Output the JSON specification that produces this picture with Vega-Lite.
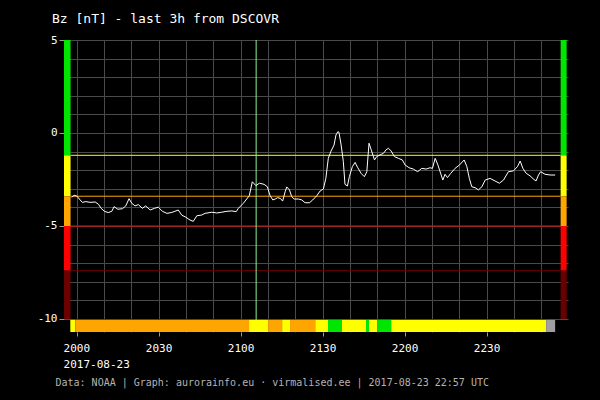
{
  "$schema": "https://vega.github.io/schema/vega-lite/v6.json",
  "width": 504,
  "height": 292,
  "autosize": {"type": "none"},
  "padding": {"left": 64, "top": 40, "right": 32, "bottom": 68},
  "background": "#000000",
  "config": {"view": {"stroke": null}, "font": "DejaVu Sans Mono", "axis": {"labelOverlap": false}},
  "title": {
    "text": "Bz [nT] - last 3h from DSCOVR",
    "anchor": "start",
    "frame": "group",
    "dx": -12,
    "dy": 10,
    "offset": 8,
    "baseline": "alphabetic",
    "color": "#ffffff",
    "font": "DejaVu Sans Mono",
    "fontSize": 13,
    "fontWeight": "normal"
  },
  "resolve": {"axis": {"x": "independent", "y": "independent"}},
  "datasets": {
    "bz": [
      {"t": -1.8, "bz": -3.46}, {"t": -0.9, "bz": -3.35}, {"t": 0.1, "bz": -3.39}, {"t": 1.3, "bz": -3.6}, {"t": 2.1, "bz": -3.73},
      {"t": 3.4, "bz": -3.69}, {"t": 4.9, "bz": -3.73}, {"t": 6.8, "bz": -3.71}, {"t": 8.0, "bz": -3.83}, {"t": 9.0, "bz": -4.05},
      {"t": 10.2, "bz": -4.21}, {"t": 11.6, "bz": -4.28}, {"t": 12.9, "bz": -4.21}, {"t": 13.7, "bz": -3.96}, {"t": 15.1, "bz": -4.1},
      {"t": 16.8, "bz": -4.07}, {"t": 18.0, "bz": -3.92}, {"t": 19.2, "bz": -3.53}, {"t": 20.2, "bz": -3.78}, {"t": 21.4, "bz": -3.92},
      {"t": 22.6, "bz": -3.85}, {"t": 24.1, "bz": -4.05}, {"t": 25.3, "bz": -3.92}, {"t": 26.9, "bz": -4.14}, {"t": 28.5, "bz": -4.05},
      {"t": 29.9, "bz": -3.99}, {"t": 31.4, "bz": -4.21}, {"t": 33.0, "bz": -4.32}, {"t": 34.6, "bz": -4.28}, {"t": 36.0, "bz": -4.21},
      {"t": 37.2, "bz": -4.14}, {"t": 38.5, "bz": -4.42}, {"t": 40.0, "bz": -4.53}, {"t": 41.5, "bz": -4.68}, {"t": 42.7, "bz": -4.75},
      {"t": 44.0, "bz": -4.45}, {"t": 45.8, "bz": -4.41}, {"t": 47.0, "bz": -4.32}, {"t": 49.5, "bz": -4.26}, {"t": 51.3, "bz": -4.3},
      {"t": 53.1, "bz": -4.26}, {"t": 55.0, "bz": -4.21}, {"t": 56.8, "bz": -4.19}, {"t": 58.4, "bz": -4.23}, {"t": 59.2, "bz": -4.05},
      {"t": 61.0, "bz": -3.78}, {"t": 63.2, "bz": -3.37}, {"t": 64.3, "bz": -2.62}, {"t": 65.6, "bz": -2.83}, {"t": 66.9, "bz": -2.7},
      {"t": 68.6, "bz": -2.76}, {"t": 69.8, "bz": -2.89}, {"t": 70.8, "bz": -3.37}, {"t": 71.8, "bz": -3.6}, {"t": 72.7, "bz": -3.55},
      {"t": 73.5, "bz": -3.48}, {"t": 74.5, "bz": -3.51}, {"t": 75.4, "bz": -3.66}, {"t": 76.3, "bz": -3.16}, {"t": 76.9, "bz": -2.9},
      {"t": 77.9, "bz": -3.06}, {"t": 78.7, "bz": -3.42}, {"t": 79.6, "bz": -3.55}, {"t": 81.2, "bz": -3.55}, {"t": 82.4, "bz": -3.6},
      {"t": 83.6, "bz": -3.75}, {"t": 85.2, "bz": -3.75}, {"t": 86.4, "bz": -3.6}, {"t": 87.9, "bz": -3.37}, {"t": 89.1, "bz": -3.12},
      {"t": 90.3, "bz": -3.01}, {"t": 91.2, "bz": -2.44}, {"t": 92.1, "bz": -1.36}, {"t": 93.1, "bz": -0.97}, {"t": 94.2, "bz": -0.65},
      {"t": 94.9, "bz": -0.11}, {"t": 95.6, "bz": 0.07}, {"t": 96.0, "bz": 0.04}, {"t": 96.8, "bz": -0.65}, {"t": 97.6, "bz": -1.54},
      {"t": 98.2, "bz": -2.76}, {"t": 99.1, "bz": -2.85}, {"t": 99.8, "bz": -2.35}, {"t": 100.9, "bz": -1.81}, {"t": 101.9, "bz": -1.58},
      {"t": 102.9, "bz": -1.87}, {"t": 104.1, "bz": -2.17}, {"t": 105.3, "bz": -2.35}, {"t": 106.2, "bz": -2.08}, {"t": 107.0, "bz": -0.55},
      {"t": 107.8, "bz": -0.91}, {"t": 109.0, "bz": -1.45}, {"t": 109.8, "bz": -1.27}, {"t": 111.0, "bz": -1.18}, {"t": 112.3, "bz": -1.09},
      {"t": 113.2, "bz": -0.91}, {"t": 114.1, "bz": -0.82}, {"t": 115.1, "bz": -0.97}, {"t": 116.3, "bz": -1.27}, {"t": 117.7, "bz": -1.36},
      {"t": 119.2, "bz": -1.45}, {"t": 120.2, "bz": -1.72}, {"t": 121.7, "bz": -1.87}, {"t": 123.2, "bz": -1.94}, {"t": 124.8, "bz": -2.08},
      {"t": 126.3, "bz": -1.9}, {"t": 127.9, "bz": -1.94}, {"t": 129.3, "bz": -1.87}, {"t": 130.2, "bz": -1.9}, {"t": 131.2, "bz": -1.36},
      {"t": 132.2, "bz": -1.72}, {"t": 133.4, "bz": -2.26}, {"t": 134.0, "bz": -2.53}, {"t": 134.8, "bz": -2.22}, {"t": 135.7, "bz": -2.4},
      {"t": 136.9, "bz": -2.17}, {"t": 138.5, "bz": -1.9}, {"t": 140.1, "bz": -1.72}, {"t": 141.8, "bz": -1.45}, {"t": 142.8, "bz": -1.81},
      {"t": 143.7, "bz": -2.44}, {"t": 144.6, "bz": -2.89}, {"t": 145.8, "bz": -2.94}, {"t": 147.0, "bz": -3.06}, {"t": 148.3, "bz": -2.89},
      {"t": 149.5, "bz": -2.53}, {"t": 151.3, "bz": -2.44}, {"t": 153.1, "bz": -2.58}, {"t": 154.7, "bz": -2.7}, {"t": 156.2, "bz": -2.53},
      {"t": 158.0, "bz": -2.08}, {"t": 159.8, "bz": -2.04}, {"t": 161.3, "bz": -1.81}, {"t": 162.3, "bz": -1.51}, {"t": 163.3, "bz": -1.9},
      {"t": 164.5, "bz": -2.17}, {"t": 165.9, "bz": -2.3}, {"t": 167.1, "bz": -2.47}, {"t": 168.1, "bz": -2.58}, {"t": 169.0, "bz": -2.26},
      {"t": 169.8, "bz": -2.08}, {"t": 171.4, "bz": -2.22}, {"t": 173.3, "bz": -2.26}, {"t": 175.1, "bz": -2.26}
    ],
    "levels": [
      {"level": "green", "lo": -1.2, "hi": 5},
      {"level": "yellow", "lo": -3.4, "hi": -1.2},
      {"level": "orange", "lo": -5, "hi": -3.4},
      {"level": "red", "lo": -7.4, "hi": -5},
      {"level": "darkred", "lo": -10, "hi": -7.4}
    ],
    "bar": [
      {"start": -2.3, "end": -0.5, "level": "yellow"},
      {"start": -0.5, "end": 63.1, "level": "orange"},
      {"start": 63.1, "end": 70.1, "level": "yellow"},
      {"start": 70.1, "end": 75.2, "level": "orange"},
      {"start": 75.2, "end": 78.1, "level": "yellow"},
      {"start": 78.1, "end": 87.3, "level": "orange"},
      {"start": 87.3, "end": 92.0, "level": "yellow"},
      {"start": 92.0, "end": 97.1, "level": "green"},
      {"start": 97.1, "end": 105.9, "level": "yellow"},
      {"start": 105.9, "end": 107.0, "level": "green"},
      {"start": 107.0, "end": 110.0, "level": "yellow"},
      {"start": 110.0, "end": 115.1, "level": "green"},
      {"start": 115.1, "end": 171.8, "level": "yellow"},
      {"start": 171.8, "end": 175.1, "level": "nodata"}
    ],
    "marker": [{"t": 65.7}]
  },
  "layer": [
    {
      "data": {"name": "levels"},
      "transform": [{"filter": "datum.level != 'green'"}],
      "mark": {"type": "rule", "strokeWidth": 1},
      "encoding": {
        "x": {
          "datum": -2.2,
          "type": "quantitative",
          "scale": {"domain": [-4.6, 179.8], "nice": false, "zero": false},
          "axis": {
            "orient": "bottom",
            "title": null,
            "values": [0, 10, 20, 30, 40, 50, 60, 70, 80, 90, 100, 110, 120, 130, 140, 150, 160, 170],
            "labels": false,
            "ticks": false,
            "domain": false,
            "grid": true,
            "gridColor": "#4a4a4a",
            "gridWidth": 1
          }
        },
        "x2": {"datum": 177.1},
        "y": {
          "field": "hi",
          "type": "quantitative",
          "scale": {"domain": [-10.7, 5], "nice": false, "zero": false},
          "axis": {
            "orient": "left",
            "title": null,
            "values": [-10, -9, -8, -7, -6, -5, -4, -3, -2, -1, 0, 1, 2, 3, 4, 5],
            "labels": false,
            "ticks": false,
            "domain": false,
            "grid": true,
            "gridColor": "#4a4a4a",
            "gridWidth": 1
          }
        },
        "color": {
          "field": "level",
          "type": "nominal",
          "legend": null,
          "scale": {
            "domain": ["green", "yellow", "orange", "red", "darkred", "nodata"],
            "range": ["#00e600", "#ffff00", "#ffa500", "#ff0000", "#6b0000", "#a0a0a0"]
          }
        }
      }
    },
    {
      "data": {"name": "marker"},
      "mark": {"type": "rule", "color": "#90ee90", "strokeWidth": 1},
      "encoding": {
        "x": {"field": "t", "type": "quantitative", "axis": null}
      }
    },
    {
      "data": {"name": "bz"},
      "mark": {"type": "line", "color": "#ffffff", "strokeWidth": 1, "interpolate": "linear"},
      "encoding": {
        "x": {
          "field": "t",
          "type": "quantitative",
          "scale": {"domain": [-4.6, 179.8], "nice": false, "zero": false},
          "axis": {
            "orient": "bottom",
            "title": "Data: NOAA | Graph: aurorainfo.eu · virmalised.ee | 2017-08-23 22:57 UTC",
            "titleFont": "DejaVu Sans Mono",
            "titleFontSize": 10,
            "titleFontWeight": "normal",
            "titleColor": "#b4b4b4",
            "titleAlign": "left",
            "titleAnchor": "start",
            "titleX": -9,
            "titleY": 53,
            "titleBaseline": "alphabetic",
            "values": [0, 30, 60, 90, 120, 150],
            "labelExpr": "datum.value == 0 ? ['2000', '2017-08-23'] : (20 + floor(datum.value / 60)) + (datum.value % 60 == 0 ? '00' : '30')",
            "labelFont": "DejaVu Sans Mono",
            "labelFontSize": 11,
            "labelColor": "#ffffff",
            "labelLineHeight": 16,
            "labelPadding": 6,
            "labelOverlap": false,
            "labelBound": false,
            "labelFlush": false,
            "labelAlign": {"condition": {"test": "datum.value == 0", "value": "left"}, "value": "center"},
            "labelOffset": {"condition": {"test": "datum.value == 0", "value": -13.5}, "value": 0},
            "domain": false,
            "tickSize": 4,
            "tickColor": "#9a9a9a",
            "grid": false
          }
        },
        "y": {
          "field": "bz",
          "type": "quantitative",
          "axis": {
            "orient": "left",
            "title": null,
            "values": [-10, -5, 0, 5],
            "labelExpr": "toString(datum.value)",
            "labelFont": "DejaVu Sans Mono",
            "labelFontSize": 11,
            "labelColor": "#ffffff",
            "labelPadding": 2,
            "labelOverlap": false,
            "labelBound": false,
            "labelFlush": false,
            "domain": false,
            "tickSize": 5,
            "tickColor": "#9a9a9a",
            "grid": false
          }
        }
      }
    },
    {
      "data": {"name": "levels"},
      "mark": {"type": "rect"},
      "encoding": {
        "x": {"datum": -4.6, "type": "quantitative", "axis": null},
        "x2": {"datum": -2.2},
        "y": {"field": "hi", "type": "quantitative", "axis": null},
        "y2": {"field": "lo"},
        "color": {"field": "level", "type": "nominal", "legend": null}
      }
    },
    {
      "data": {"name": "levels"},
      "mark": {"type": "rect"},
      "encoding": {
        "x": {"datum": 177.1, "type": "quantitative", "axis": null},
        "x2": {"datum": 179.3},
        "y": {"field": "hi", "type": "quantitative", "axis": null},
        "y2": {"field": "lo"},
        "color": {"field": "level", "type": "nominal", "legend": null}
      }
    },
    {
      "data": {"name": "bar"},
      "mark": {"type": "rect"},
      "encoding": {
        "x": {"field": "start", "type": "quantitative", "axis": null},
        "x2": {"field": "end"},
        "y": {"datum": -10.05, "type": "quantitative", "axis": null},
        "y2": {"datum": -10.7},
        "color": {"field": "level", "type": "nominal", "legend": null}
      }
    }
  ]
}
